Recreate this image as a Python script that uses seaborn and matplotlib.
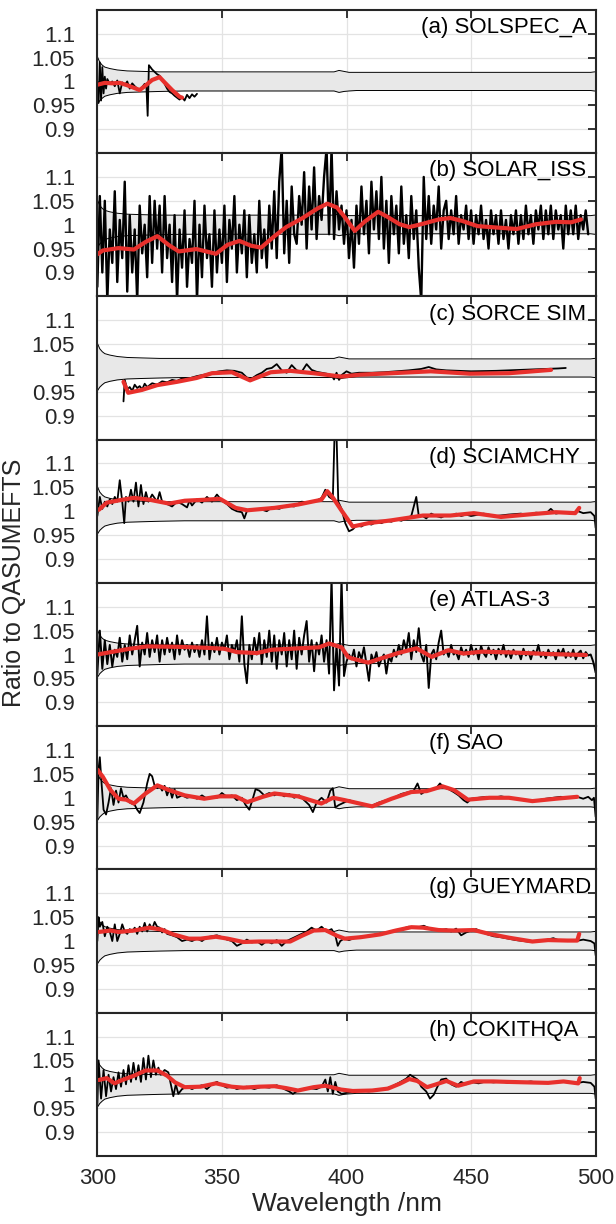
import numpy as np
import pandas as pd
import seaborn as sns
import matplotlib.pyplot as plt

# QASUMEFTS uncertainty envelope (shared by all panels)
env_wl = [300, 301, 302, 303, 305, 308, 312, 318, 325, 335, 350, 380, 395, 397, 399, 401, 404, 450, 498, 499.5, 500]
env_hi = [1.052, 1.04, 1.034, 1.03, 1.027, 1.024, 1.022, 1.021, 1.02, 1.02, 1.02, 1.02, 1.02, 1.023, 1.021, 1.019, 1.019, 1.019, 1.019, 1.02, 1.02]
env_lo = [0.952, 0.96, 0.965, 0.969, 0.972, 0.975, 0.977, 0.978, 0.979, 0.98, 0.98, 0.98, 0.98, 0.977, 0.979, 0.98, 0.981, 0.981, 0.981, 0.98, 0.98]

# (a) SOLSPEC_A
a_wl = [300, 300.5, 301, 301.5, 302, 302.5, 303, 303.5, 304, 305, 306, 307, 308, 309, 310, 311, 312, 313, 314, 315,
        316, 317, 318, 319, 319.7, 320.2, 320.7, 321.3, 322, 323, 324, 325, 326, 327, 328, 329, 330, 331, 332, 333,
        334, 335, 336, 337, 338, 339, 340]
a_ratio = [1.0, 0.955, 1.04, 0.96, 1.03, 0.975, 1.01, 0.985, 1.005, 0.995, 1.0, 0.99, 1.002, 0.975, 0.998, 0.992,
           1.0, 0.985, 0.996, 0.99, 0.985, 0.98, 0.988, 0.995, 0.99, 0.928, 1.034, 1.03, 1.025, 1.02, 1.015, 1.012,
           1.003, 0.995, 0.985, 0.978, 0.975, 0.97, 0.966, 0.962, 0.968, 0.96, 0.972, 0.965, 0.973, 0.968, 0.974]
a_sm_wl = [300, 303, 306, 309, 312, 315, 317, 319, 322, 325, 327, 330, 333, 334]
a_sm = [0.993, 0.997, 0.996, 0.997, 0.992, 0.986, 0.982, 0.99, 1.003, 1.009, 0.998, 0.982, 0.968, 0.966]

# (b) SOLAR_ISS, 1 nm steps from 300 to 497
b_wl = np.arange(300, 498)
b_ratio = [0.87, 1.06, 0.90, 1.05, 0.84, 0.99, 0.92, 1.07, 0.88, 1.01,
           0.93, 1.09, 0.86, 1.02, 0.90, 0.99, 0.84, 1.04, 0.94, 1.00,
           0.89, 1.06, 0.92, 1.05, 0.95, 1.04, 0.90, 1.06, 0.93, 1.00,
           0.88, 1.02, 0.84, 0.99, 0.91, 1.03, 0.87, 0.97, 0.92, 1.05,
           0.84, 1.00, 0.89, 1.04, 0.93, 0.98, 0.87, 1.03, 0.90, 0.99,
           0.92, 1.04, 0.88, 1.01, 0.95, 1.06, 0.90, 1.00, 0.94, 1.03,
           0.89, 1.02, 0.92, 0.98, 0.90, 1.05, 0.93, 0.99, 0.91, 1.04,
           0.95, 1.07, 0.93, 1.09, 1.16, 0.94, 1.05, 0.92, 1.08, 0.98,
           0.96, 1.06, 1.00, 1.11, 0.95, 1.08, 0.99, 1.12, 0.97, 1.06,
           1.01, 1.10, 1.16, 0.98, 1.16, 0.97, 1.07, 0.99, 1.04, 0.96,
           1.03, 0.93, 1.01, 0.91, 1.04, 0.96, 1.08, 0.98, 1.05, 0.94,
           1.09, 0.99, 1.07, 0.97, 1.10, 0.95, 1.05, 0.92, 1.06, 0.98,
           1.04, 0.94, 1.08, 0.96, 1.02, 0.93, 1.06, 0.97, 1.03, 0.91,
           0.84, 1.10, 0.97, 1.06, 0.96, 1.04, 0.99, 1.08, 0.95, 1.03,
           1.05, 0.97, 1.03, 0.98, 1.06, 0.96, 1.02, 0.99, 1.04, 0.97,
           1.03, 0.96, 1.02, 0.98, 1.04, 0.97, 1.01, 0.95, 1.03, 0.98,
           1.02, 0.96, 1.03, 0.97, 1.01, 0.95, 1.02, 0.98, 1.03, 0.96,
           1.02, 0.97, 1.04, 0.98, 1.02, 0.96, 1.03, 0.99, 1.04, 0.97,
           1.03, 0.98, 1.04, 0.97, 1.03, 0.99, 1.02, 0.95, 1.04, 0.98,
           1.03, 0.98, 1.04, 0.97, 1.02, 0.99, 1.03, 0.98]
b_sm_wl = [300, 302.2, 308.5, 314.7, 319.4, 324.1, 328.8, 332.7, 339.8, 347.6, 352.3, 357, 361.7, 365.7, 371.1,
           375.8, 382.1, 388.4, 392.3, 396.2, 399.3, 403.3, 407.2, 412.7, 416.6, 421.3, 425.2, 430.7, 437, 441.7,
           446.4, 452.6, 460.5, 468.3, 476.1, 484, 490.2, 494.1]
b_sm = [0.938, 0.946, 0.951, 0.948, 0.964, 0.976, 0.957, 0.944, 0.949, 0.939, 0.958, 0.966, 0.956, 0.952, 0.976,
        0.995, 1.013, 1.034, 1.044, 1.036, 1.016, 0.987, 1.006, 1.027, 1.016, 1.001, 0.995, 1.002, 1.011, 1.014,
        1.008, 0.997, 0.994, 0.991, 1.001, 1.006, 1.005, 1.011]

# (c) SORCE SIM
c_wl = [310.5, 311, 312, 313, 314, 315, 316, 317, 318, 319, 320, 322, 324, 326, 328, 330, 332, 334, 336, 338, 340,
        343, 346, 349, 352, 355, 358, 360, 362, 364, 366, 368, 370, 372, 374, 376, 378, 380, 382, 384, 386, 388,
        390, 392, 394, 395, 396, 397, 398, 400, 402, 405, 410, 415, 420, 425, 430, 433, 436, 440, 450, 460, 470,
        480, 485, 488]
c_ratio = [0.93, 0.975, 0.955, 0.96, 0.952, 0.965, 0.958, 0.962, 0.955, 0.967, 0.96, 0.968, 0.965, 0.972, 0.97,
           0.975, 0.973, 0.978, 0.976, 0.98, 0.983, 0.986, 0.99, 0.993, 0.995, 0.994, 0.99, 0.98, 0.978, 0.985,
           0.99, 0.998, 1.0, 1.008, 0.995, 0.99, 1.006, 0.995, 0.992, 1.008, 0.996, 0.992, 0.99, 0.988, 0.985,
           0.976, 0.99, 0.975, 0.985, 0.993, 0.988, 0.99, 0.99, 0.991, 0.993, 0.995, 0.998, 1.002, 0.997, 0.995,
           0.993, 0.994, 0.996, 0.998, 0.999, 1.0]
c_sm_wl = [310.5, 312.4, 317.9, 324, 332, 339.8, 346, 354, 361.3, 369.6, 377.4, 386.8, 397.8, 405.6, 418.1, 433.8,
           449.5, 465.2, 482.1]
c_sm = [0.971, 0.948, 0.954, 0.964, 0.971, 0.979, 0.989, 0.991, 0.974, 0.991, 0.994, 0.989, 0.982, 0.986, 0.989,
        0.993, 0.988, 0.989, 0.996]

# (d) SCIAMCHY
d_wl = [300, 301, 302, 303, 304, 305, 306, 307, 308, 309, 310, 310.8, 311.5, 312.5, 313.5, 314.5, 315.5, 316.5,
        317.5, 318.5, 319.5, 320.5, 322, 324, 325, 326, 328, 330, 332, 334, 336, 337, 338, 340, 342, 344, 346, 348,
        350, 352, 354, 356, 358, 359, 360, 362, 365, 368, 370, 373, 376, 379, 382, 385, 388, 390, 391.5, 393,
        394.5, 395.2, 396.0, 396.7, 398, 399.5, 401, 402.5, 404, 406, 408, 410, 412, 414, 416, 418, 420, 422, 424,
        426, 428, 429, 430, 432, 434, 436, 438, 440, 442, 444, 446, 448, 450, 455, 460, 465, 470, 473, 476, 480,
        482, 484, 487, 490, 493, 495, 498, 499.5, 500]
d_ratio = [0.99, 1.03, 1.005, 1.02, 1.01, 1.025, 1.015, 1.03, 1.02, 1.065, 1.02, 0.975, 1.03, 1.02, 1.045, 1.02,
           1.06, 1.01, 1.055, 1.015, 1.04, 1.02, 1.035, 1.02, 1.04, 1.02, 1.015, 1.01, 1.02, 1.015, 1.008, 1.022,
           1.012, 1.025, 1.018, 1.03, 1.02, 1.035, 1.022, 1.015, 1.005, 1.0, 0.998, 0.985, 1.0, 1.003, 1.005, 1.0,
           1.008, 1.005, 1.012, 1.01, 1.02, 1.018, 1.022, 1.028, 1.045, 1.03, 1.025, 1.16, 1.16, 1.02, 1.005,
           0.975, 0.958, 0.962, 0.97, 0.968, 0.975, 0.972, 0.978, 0.975, 0.98, 0.978, 0.983, 0.98, 0.985, 0.99,
           1.03, 0.99, 0.992, 0.985, 0.995, 0.99, 0.987, 0.992, 0.99, 0.995, 0.99, 0.993, 0.99, 0.995, 0.99,
           0.993, 0.995, 0.992, 0.997, 0.995, 1.005, 0.995, 0.998, 0.995, 1.0, 0.996, 0.998, 0.99, 0.965]
d_sm_wl = [300.6, 303.8, 310, 314.7, 321, 328.8, 335.1, 342.9, 349.2, 355.5, 360.2, 371.1, 380.5, 389.9, 392.3,
           394.6, 397.8, 402.5, 408.8, 418.1, 430.7, 441.7, 451.1, 462, 474.6, 484, 491.8, 493.4]
d_sm = [1.003, 1.018, 1.024, 1.028, 1.024, 1.016, 1.022, 1.024, 1.026, 1.007, 1.002, 1.007, 1.014, 1.024, 1.042,
        1.028, 1.003, 0.968, 0.975, 0.981, 0.991, 0.991, 0.996, 0.988, 0.994, 0.998, 0.996, 1.007]

# (e) ATLAS-3, 1 nm steps from 300 to 500
e_wl = np.arange(300, 501)
e_ratio = [0.96, 1.05, 0.97, 1.03, 0.98, 1.02, 0.975, 1.01, 0.995, 1.035,
           0.985, 1.02, 0.99, 1.04, 1.0, 1.03, 1.06, 0.975, 1.025, 1.0,
           1.045, 0.995, 1.03, 1.005, 1.04, 0.985, 1.03, 1.0, 1.035, 1.005,
           1.025, 0.99, 1.04, 1.0, 1.03, 1.01, 1.02, 0.995, 1.025, 1.005,
           1.02, 0.995, 1.03, 1.0, 1.08, 0.99, 1.025, 1.005, 1.035, 1.0,
           1.025, 1.01, 1.04, 0.99, 1.02, 1.005, 1.03, 0.985, 1.08, 0.98,
           0.94, 1.02, 0.99, 1.035, 1.0, 1.045, 0.98, 1.03, 0.995, 1.05,
           0.985, 1.04, 0.97, 1.03, 1.0, 1.045, 0.975, 1.03, 0.99, 1.05,
           0.97, 1.035, 1.0, 1.04, 1.07, 0.985, 1.03, 0.965, 1.025, 1.0,
           1.04, 0.985, 1.03, 0.96, 1.16, 0.925, 1.02, 0.935, 1.16, 0.955,
           0.985, 1.0, 0.99, 1.01, 0.975, 1.005, 0.99, 1.015, 0.98, 0.945,
           1.0, 0.985, 1.005, 0.975, 0.99, 1.0, 0.96, 0.995, 0.985, 1.01,
           0.995, 1.02, 1.0, 1.03, 1.01, 1.045, 0.99, 1.03, 1.005, 1.055,
           1.0, 0.985, 1.02, 0.93, 1.0, 1.01, 0.99, 1.025, 1.05, 1.0,
           1.01, 0.995, 1.02, 1.0, 1.005, 0.99, 1.015, 1.0, 1.01, 0.995,
           1.02, 1.0, 1.012, 0.99, 1.018, 1.003, 0.995, 1.015, 1.0, 1.01,
           0.99, 1.012, 1.0, 1.02, 0.995, 1.008, 0.992, 1.01, 1.0, 1.005,
           0.99, 1.012, 0.998, 1.006, 0.99, 1.008, 1.0, 1.02, 0.995, 1.005,
           0.992, 1.01, 0.998, 1.005, 0.99, 1.01, 1.0, 1.012, 0.993, 1.005,
           0.995, 1.01, 0.99, 1.003, 1.008, 0.992, 1.005, 0.998, 1.0, 0.985,
           0.962]
e_sm_wl = [300, 313, 320, 333, 344, 351, 356, 364, 370, 381, 389, 393, 398, 400.6, 402, 408.7, 414, 420.7, 428.1,
           434.2, 440.9, 447, 454.4, 467.9, 481.3, 496.1]
e_sm = [1.0, 1.012, 1.017, 1.016, 1.014, 1.012, 1.005, 1.003, 1.01, 1.013, 1.015, 1.023, 1.015, 0.995, 0.992,
        0.983, 0.992, 1.003, 1.013, 0.995, 1.009, 1.002, 1.006, 1.004, 1.001, 0.999]

# (f) SAO
f_wl = [300, 300.5, 301, 301.7, 302.5, 303.5, 304.5, 305.5, 306.5, 307.5, 308.5, 309.5, 310.5, 311.5, 313, 315,
        316, 317, 318.5, 320, 321, 322, 323, 324, 325, 326, 327, 328, 329, 330, 331, 332, 334, 336, 338, 340, 342,
        344, 346, 348, 350, 352, 354, 356, 358, 359.5, 361, 362.5, 363.5, 365, 367, 369, 371, 373, 375, 377, 379,
        381, 383, 385, 386.5, 388, 390, 392, 393.5, 394.5, 395.5, 397, 399, 401, 404, 407, 410, 413, 416, 419,
        422, 425, 427, 428.5, 430, 432, 434, 436, 437.5, 439, 441, 443, 445, 447, 448.5, 450, 453, 456, 459, 462,
        465, 468, 471, 474, 477, 480, 483, 486, 489, 492, 495, 497, 498.5, 499.3, 500]
f_ratio = [0.955, 1.06, 1.085, 1.03, 0.975, 0.965, 0.99, 1.02, 0.985, 1.015, 0.99, 1.02, 1.0, 1.005, 0.99,
           0.985, 0.975, 0.968, 0.99, 1.03, 1.05, 1.045, 1.025, 1.02, 1.025, 1.015, 1.025, 1.005, 1.02, 1.0,
           1.018, 1.0, 1.005, 1.0, 1.003, 0.998, 1.005, 0.998, 1.002, 1.0, 1.01, 1.002, 1.005, 0.995, 1.0,
           0.985, 0.975, 1.0, 1.018, 1.015, 1.005, 1.01, 1.005, 1.01, 1.003, 1.008, 1.0, 1.005, 0.995, 0.985,
           0.97, 0.99, 1.0, 0.99, 1.015, 1.02, 0.98, 0.985, 0.99, 0.995, 0.99, 0.985, 0.983, 0.99, 0.995, 1.0,
           1.008, 1.012, 1.015, 1.03, 1.008, 1.015, 1.018, 1.02, 1.03, 1.022, 1.018, 1.012, 1.005, 0.995, 0.99,
           0.998, 1.0, 1.002, 1.0, 1.003, 1.0, 0.998, 0.995, 0.993, 0.995, 0.998, 1.0, 1.002, 1.0, 1.003, 0.998,
           1.002, 0.995, 1.0, 0.96]
f_sm_wl = [300, 302.2, 305.3, 308.5, 311.6, 314.7, 319.4, 324.1, 328.8, 335.1, 342.9, 349.2, 355.5, 360.2, 366.4,
           371.1, 380.5, 389.9, 394.6, 399.3, 410.3, 418.1, 426, 432.2, 438.5, 443.2, 448.7, 457.3, 465.2, 474.6,
           484, 492.6]
f_sm = [1.059, 1.044, 1.016, 0.998, 0.996, 0.988, 1.009, 1.026, 1.016, 1.005, 0.998, 1.003, 1.003, 0.991, 1.002,
        1.009, 1.003, 0.988, 1.0, 0.995, 0.982, 0.998, 1.012, 1.014, 1.024, 1.016, 0.996, 1.0, 1.0, 0.993, 0.998,
        1.002]

# (g) GUEYMARD
g_wl = [300, 300.5, 301, 302, 303, 304, 305, 306, 307, 308, 309, 310, 311, 312, 313, 314, 315, 316, 317, 318, 319,
        320, 321, 322, 323, 324, 325, 326, 327, 328, 330, 332, 334, 336, 338, 340, 342, 344, 346, 348, 350, 352,
        354, 356, 358, 360, 362, 364, 366, 368, 370, 372, 374, 376, 378, 380, 382, 384, 386, 388, 390, 392, 394,
        395.5, 396.5, 397.5, 399, 401, 404, 407, 410, 413, 416, 419, 422, 425, 428, 431, 434, 437, 440, 442, 444,
        446, 448, 450, 452, 454, 456, 459, 462, 465, 468, 471, 474, 477, 480, 483, 486, 489, 492, 495, 498, 499.5,
        500]
g_ratio = [1.0, 1.05, 1.03, 1.04, 1.01, 1.03, 1.02, 1.0, 1.035, 1.0, 1.015, 1.035, 1.02, 1.015, 1.025, 1.02,
           1.028, 1.015, 1.03, 1.02, 1.038, 1.02, 1.035, 1.025, 1.04, 1.03, 1.028, 1.018, 1.025, 1.015, 1.012,
           1.008, 1.0, 1.003, 1.0, 1.005, 1.0, 1.008, 1.01, 1.012, 1.008, 1.003, 1.0, 0.99, 0.995, 1.003, 0.997,
           1.0, 0.992, 1.0, 0.995, 1.002, 0.99, 1.0, 1.005, 1.01, 1.015, 1.02, 1.028, 1.022, 1.03, 1.02, 1.025,
           1.012, 0.99, 1.0, 1.005, 1.002, 1.008, 1.01, 1.012, 1.015, 1.018, 1.022, 1.025, 1.03, 1.028, 1.032,
           1.025, 1.022, 1.025, 1.02, 1.026, 1.012, 1.018, 1.022, 1.025, 1.02, 1.015, 1.01, 1.008, 1.005, 1.002,
           1.0, 0.998, 1.0, 1.002, 1.006, 1.0, 1.002, 1.0, 1.003, 1.0, 0.995, 0.97]
g_sm_wl = [300.6, 305.3, 308.5, 314.7, 321, 325.7, 330.4, 336.7, 341.4, 347.6, 352.3, 358.6, 364.9, 371.1, 377.4,
           382.1, 386.8, 391.5, 396.2, 399.3, 405.6, 413.6, 419.8, 426, 430.7, 437, 443.2, 451.1, 457.3, 465.2,
           474.6, 480.9, 488.7, 492.6, 493.4]
g_sm = [1.019, 1.022, 1.019, 1.022, 1.028, 1.024, 1.014, 1.005, 1.005, 1.009, 1.005, 0.998, 0.999, 0.999, 0.999,
        1.011, 1.022, 1.023, 1.011, 1.005, 1.008, 1.014, 1.022, 1.029, 1.028, 1.023, 1.022, 1.023, 1.015, 1.007,
        0.999, 1.002, 1.001, 1.001, 1.015]

# (h) COKITHQA
h_wl = [300, 300.5, 301.5, 302.5, 303.5, 304.5, 305.5, 306.5, 307.5, 308.5, 309.5, 310.5, 311.5, 312.5, 313.5,
        314.5, 315.5, 316.5, 317.5, 318.5, 319.5, 320.5, 321.5, 322.5, 323.5, 324.5, 325.5, 327, 328.5, 329.5,
        330.5, 331.5, 332.5, 334, 336, 338, 340, 342, 344, 346, 348, 350, 352, 354, 356, 358, 360, 363, 366, 369,
        372, 375, 377, 378.5, 380, 382, 385, 388, 390, 391.5, 392.5, 393.5, 394.5, 395.5, 396.5, 398, 400, 403,
        406, 409, 412, 415, 418, 421, 424, 425.5, 427, 428.5, 430, 432, 433.5, 435, 436.5, 438, 440, 442, 444,
        446, 448, 450, 453, 456, 459, 462, 465, 468, 471, 474, 477, 480, 483, 486, 489, 492, 495, 498, 499.5, 500]
h_ratio = [0.955, 1.05, 0.97, 1.03, 0.975, 1.02, 0.985, 1.015, 0.99, 1.025, 0.995, 1.03, 1.0, 1.04, 1.005, 1.045,
           1.01, 1.04, 1.005, 1.055, 1.01, 1.06, 1.015, 1.05, 1.02, 1.035, 1.02, 1.03, 1.025, 1.0, 0.975, 1.0,
           0.98, 0.99, 0.995, 0.99, 0.995, 0.998, 0.99, 1.0, 1.005, 0.998, 0.993, 0.995, 0.99, 0.993, 0.995,
           0.99, 0.995, 0.993, 0.998, 0.99, 0.985, 0.98, 0.985, 0.99, 0.992, 0.99, 0.995, 1.01, 0.985, 1.015,
           0.98, 1.005, 0.985, 0.98, 0.982, 0.985, 0.987, 0.985, 0.988, 0.99, 0.995, 1.003, 1.012, 1.02, 1.015,
           1.01, 0.995, 0.985, 0.97, 0.978, 0.995, 1.01, 1.012, 1.0, 0.995, 1.005, 1.0, 1.005, 1.002, 1.006,
           1.004, 1.006, 1.003, 1.005, 1.004, 1.006, 1.003, 1.005, 1.003, 1.007, 1.004, 1.002, 1.005, 1.003,
           0.995, 0.97]
h_sm_wl = [300.6, 303.8, 306.9, 310, 314.7, 319.4, 324.1, 328, 331.2, 335.1, 341.4, 347.6, 353.9, 358.6, 364.9,
           371.1, 375.8, 380.5, 386.8, 391.5, 397.8, 402.5, 410.3, 416.6, 421.3, 425.2, 428.4, 432.3, 435.4, 440.1,
           444.8, 451.1, 458.9, 465.2, 473, 480.9, 487.1, 493, 493.6]
h_sm = [1.009, 1.013, 1.002, 1.009, 1.018, 1.029, 1.029, 1.018, 1.004, 0.994, 0.995, 1.002, 0.995, 0.993, 0.995,
        0.996, 0.992, 0.987, 0.994, 0.997, 0.989, 0.986, 0.987, 0.991, 1.001, 1.011, 1.007, 0.994, 0.999, 1.007,
        0.997, 1.006, 1.006, 1.005, 1.004, 1.003, 1.006, 1.002, 1.013]

panels = [
    ("(a) SOLSPEC_A", 430, a_wl, a_ratio, a_sm_wl, a_sm, 1.3),
    ("(b) SOLAR_ISS", 433, b_wl, b_ratio, b_sm_wl, b_sm, 1.7),
    ("(c) SORCE SIM", 433, c_wl, c_ratio, c_sm_wl, c_sm, 1.3),
    ("(d) SCIAMCHY", 433, d_wl, d_ratio, d_sm_wl, d_sm, 1.3),
    ("(e) ATLAS-3", 433, e_wl, e_ratio, e_sm_wl, e_sm, 1.4),
    ("(f) SAO", 433, f_wl, f_ratio, f_sm_wl, f_sm, 1.3),
    ("(g) GUEYMARD", 433, g_wl, g_ratio, g_sm_wl, g_sm, 1.3),
    ("(h) COKITHQA", 433, h_wl, h_ratio, h_sm_wl, h_sm, 1.3),
]

sns.set_theme(style="whitegrid")
plt.rcParams['font.family'] = ['Liberation Sans', 'DejaVu Sans']
dark = '#262626'
red = '#e8302c'

fig, axes = plt.subplots(8, 1, figsize=(6.16, 12.24), dpi=100, sharex=True, gridspec_kw=dict(hspace=0))
fig.subplots_adjust(left=0.158, right=0.967, top=0.992, bottom=0.0556)

for ax, (label, tx, wl, ratio, sm_wl, sm, lw) in zip(axes, panels):
    ax.set_facecolor('white')
    ax.grid(True, color='#e3e3e3', linewidth=0.9)
    ax.set_axisbelow(True)
    # uncertainty band
    ax.fill_between(env_wl, env_lo, env_hi, color='#e8e8e8', zorder=1, linewidth=0)
    sns.lineplot(x=env_wl, y=env_hi, ax=ax, color='black', linewidth=0.7, sort=False, estimator=None, zorder=2)
    sns.lineplot(x=env_wl, y=env_lo, ax=ax, color='black', linewidth=0.7, sort=False, estimator=None, zorder=2)
    # ratio and smoothed ratio
    df = pd.DataFrame({'wl': wl, 'ratio': ratio})
    sns.lineplot(data=df, x='wl', y='ratio', ax=ax, color='black', linewidth=lw, sort=False, estimator=None, zorder=3)
    dfs = pd.DataFrame({'wl': sm_wl, 'ratio': sm})
    sns.lineplot(data=dfs, x='wl', y='ratio', ax=ax, color=red, linewidth=3.0, sort=False, estimator=None, zorder=4)
    ax.text(tx, 1.113, label, fontsize=16, color='black', va='center', ha='left', zorder=5)

    ax.set_xlim(300, 500)
    ax.set_ylim(0.85, 1.15)
    ax.set_yticks([0.9, 0.95, 1.0, 1.05, 1.1])
    ax.set_yticklabels(['0.9', '0.95', '1', '1.05', '1.1'])
    ax.set_xticks([300, 350, 400, 450, 500])
    ax.set_ylabel('')
    ax.set_xlabel('')
    ax.tick_params(direction='in', top=True, right=True, length=6, width=1.3, colors=dark,
                   labelsize=16)
    ax.tick_params(axis='y', pad=16)
    ax.tick_params(axis='x', pad=9)
    for s in ax.spines.values():
        s.set_color(dark)
        s.set_linewidth(1.5)
        s.set_zorder(6)

axes[-1].set_xlabel('Wavelength /nm', fontsize=19, color=dark, labelpad=2)
fig.text(0.022, 0.524, 'Ratio to QASUMEFTS', rotation=90, fontsize=18, color=dark, va='center', ha='center')

fig.savefig('out.png', dpi=100)
